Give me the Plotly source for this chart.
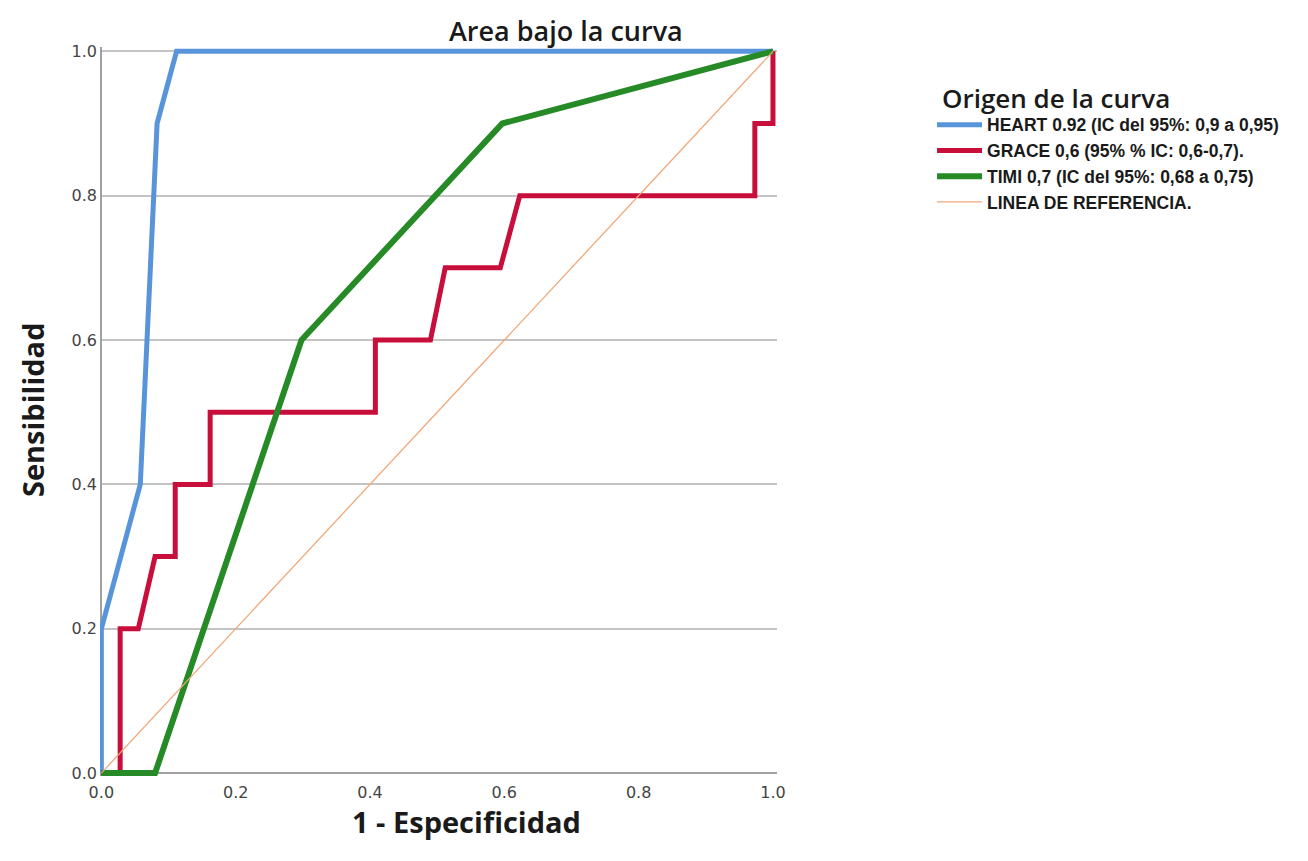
import plotly.graph_objects as go

# ROC data
heart_x = [0.0, 0.0, 0.058, 0.083, 0.112, 1.0]
heart_y = [0.0, 0.2, 0.4, 0.9, 1.0, 1.0]

grace_x = [0.0, 0.028, 0.028, 0.055, 0.08, 0.11, 0.11, 0.162, 0.162, 0.408, 0.408,
           0.49, 0.512, 0.594, 0.623, 0.973, 0.973, 1.0, 1.0]
grace_y = [0.0, 0.0, 0.2, 0.2, 0.3, 0.3, 0.4, 0.4, 0.5, 0.5, 0.6,
           0.6, 0.7, 0.7, 0.8, 0.8, 0.9, 0.9, 1.0]

timi_x = [0.0, 0.08, 0.298, 0.597, 1.0]
timi_y = [0.0, 0.0, 0.6, 0.9, 1.0]

ref_x = [0.0, 1.0]
ref_y = [0.0, 1.0]

names = [
    "HEART 0.92 (IC del 95%: 0,9 a 0,95)",
    "GRACE 0,6 (95% % IC: 0,6-0,7).",
    "TIMI 0,7 (IC del 95%: 0,68 a 0,75)",
    "LINEA DE REFERENCIA.",
]
tick_vals = [0.0, 0.2, 0.4, 0.6, 0.8, 1.0]
tick_text = ["0.0", "0.2", "0.4", "0.6", "0.8", "1.0"]

fig = go.Figure()
fig.add_trace(go.Scatter(x=heart_x, y=heart_y, mode="lines", name=names[0],
                         line=dict(color="rgb(88,148,218)", width=5)))
fig.add_trace(go.Scatter(x=grace_x, y=grace_y, mode="lines", name=names[1],
                         line=dict(color="rgb(200,14,58)", width=5)))
fig.add_trace(go.Scatter(x=timi_x, y=timi_y, mode="lines", name=names[2],
                         line=dict(color="rgb(38,138,38)", width=6)))
fig.add_trace(go.Scatter(x=ref_x, y=ref_y, mode="lines", name=names[3],
                         line=dict(color="rgb(240,168,120)", width=1.3)))

axis_title_font = dict(family="Open Sans", size=29, color="#1a1a1a", weight="bold")

fig.update_layout(
    width=1308, height=861,
    margin=dict(l=92, r=539, t=39, b=93, autoexpand=False),
    plot_bgcolor="white", paper_bgcolor="white",
    showlegend=True,
    legend=dict(
        x=1.229, y=0.918, xanchor="left", yanchor="top",
        font=dict(family="Liberation Sans", size=17.5, color="#1a1a1a", weight="bold"),
        itemwidth=45, tracegroupgap=0,
        bgcolor="rgba(0,0,0,0)",
    ),
    annotations=[
        dict(text="Area bajo la curva", xref="paper", yref="paper",
             x=0.688, y=1.0, xanchor="center", yanchor="middle", yshift=17,
             showarrow=False,
             font=dict(family="Open Sans", size=27, color="#1a1a1a", weight=600)),
        dict(text="Origen de la curva", xref="paper", yref="paper",
             x=1.2408, y=0.930, xanchor="left", yanchor="middle",
             showarrow=False,
             font=dict(family="Open Sans", size=26, color="#1a1a1a", weight=600)),
        dict(text="1 - Especificidad", xref="paper", yref="paper",
             x=0.542, y=-0.063, xanchor="center", yanchor="middle",
             showarrow=False, font=axis_title_font),
        dict(text="Sensibilidad", xref="paper", yref="paper", textangle=-90,
             x=-0.1004, y=0.502, xanchor="center", yanchor="middle",
             showarrow=False, font=axis_title_font),
    ],
)

fig.update_xaxes(
    range=[-0.002, 1.006], tickvals=tick_vals, ticktext=tick_text, automargin=False,
    showgrid=False, showline=False,
    zeroline=True, zerolinecolor="#a0a0a0", zerolinewidth=1.5,
    ticks="", ticklabelstandoff=5,
    tickfont=dict(family="DejaVu Sans", size=16, color="#444"),
)
fig.update_yaxes(
    range=[-0.004, 1.006], tickvals=tick_vals, ticktext=tick_text, automargin=False,
    showgrid=True, gridcolor="#c4c4c4", gridwidth=1.5,
    showline=False,
    zeroline=True, zerolinecolor="#a0a0a0", zerolinewidth=1.5,
    ticks="", ticklabelstandoff=2,
    tickfont=dict(family="DejaVu Sans", size=16, color="#444"),
)

fig.write_html("out.html")
